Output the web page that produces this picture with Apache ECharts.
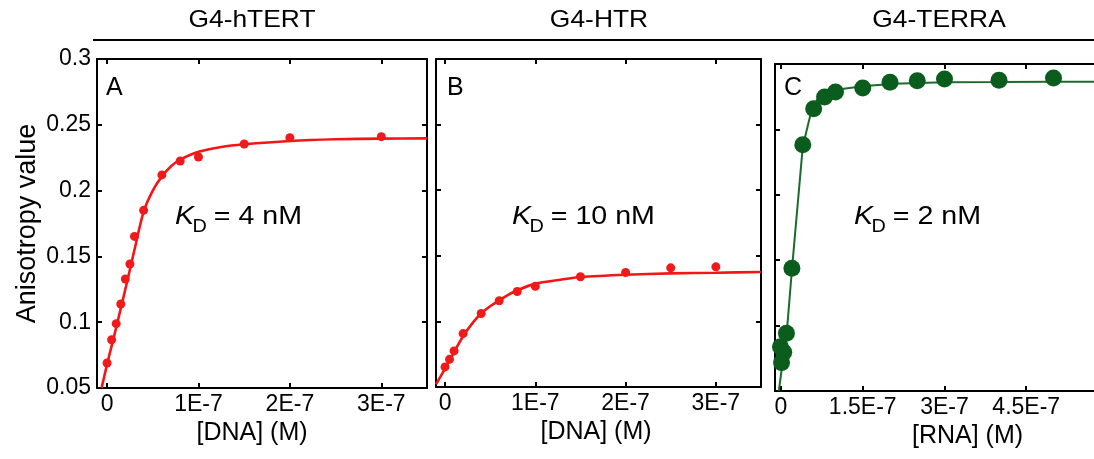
<!DOCTYPE html>
<html><head><meta charset="utf-8">
<script src="https://cdn.jsdelivr.net/npm/echarts@6/dist/echarts.min.js"></script>
<style>html,body{margin:0;padding:0;background:#fff}#c{width:1094px;height:459px}</style>
</head><body><div id="c"></div>
<script>
// ---- data ----
const panelTitles = ['G4-hTERT', 'G4-HTR', 'G4-TERRA'];
const panelLetters = ['A', 'B', 'C'];
const kdLabels = [' = 4 nM', ' = 10 nM', ' = 2 nM'];
const xNames = ['[DNA] (M)', '[DNA] (M)', '[RNA] (M)'];
const yName = 'Anisotropy value';

const yTicks = [0.05, 0.1, 0.15, 0.2, 0.25, 0.3];
const yTickLabels = ['0.05', '0.1', '0.15', '0.2', '0.25', '0.3'];
const xTicksAB = [0, 1e-7, 2e-7, 3e-7];
const xTickLabelsAB = ['0', '1E-7', '2E-7', '3E-7'];
const xTicksC = [0, 1.5e-7, 3e-7, 4.5e-7];
const xTickLabelsC = ['0', '1.5E-7', '3E-7', '4.5E-7'];

const dotsAx = [0, 5e-9, 1e-8, 1.5e-8, 2e-8, 2.5e-8, 3e-8, 4e-8, 6e-8, 8e-8, 1e-7, 1.5e-7, 2e-7, 3e-7];
const dotsAy = [0.069, 0.0867, 0.0989, 0.1138, 0.1328, 0.1442, 0.1652, 0.185, 0.2119, 0.2225, 0.2255, 0.2354, 0.2402, 0.241];
const fitAx = [-6e-9, 0, 1e-8, 2e-8, 3e-8, 4e-8, 5e-8, 6e-8, 7e-8, 8e-8, 1e-7, 1.25e-7, 1.5e-7, 2e-7, 2.5e-7, 3e-7, 3.5e-7];
const fitAy = [0.05, 0.068, 0.096, 0.125, 0.155, 0.184, 0.200, 0.2108, 0.2185, 0.2235, 0.2295, 0.2332, 0.2352, 0.2377, 0.2390, 0.2395, 0.2397];

const dotsBx = [0, 5e-9, 1e-8, 2e-8, 4e-8, 6e-8, 8e-8, 1e-7, 1.5e-7, 2e-7, 2.5e-7, 3e-7];
const dotsBy = [0.0653, 0.0711, 0.0775, 0.0907, 0.106, 0.1157, 0.1228, 0.1268, 0.134, 0.1373, 0.1408, 0.1416];
const fitBx = [-1e-8, 0, 9e-9, 2e-8, 3.15e-8, 4e-8, 5e-8, 6e-8, 7e-8, 8e-8, 1e-7, 1.28e-7, 1.5e-7, 2e-7, 2.5e-7, 3e-7, 3.5e-7];
const fitBy = [0.052, 0.064, 0.0754, 0.0887, 0.0996, 0.106, 0.1115, 0.1161, 0.1202, 0.1237, 0.1288, 0.1318, 0.1338, 0.1356, 0.1366, 0.1371, 0.1377];

const dotsCx = [-1e-9, 1e-9, 5e-9, 1e-8, 2e-8, 4e-8, 6e-8, 8e-8, 1e-7, 1.5e-7, 2e-7, 2.5e-7, 3e-7, 4e-7, 5e-7];
const dotsCy = [0.0839, 0.0717, 0.0796, 0.0941, 0.1439, 0.2383, 0.2658, 0.2747, 0.2786, 0.2816, 0.286, 0.2872, 0.2885, 0.2875, 0.2893];
const fitCx = [-4e-9, 1.1e-8, 2e-8, 4e-8, 5.4e-8, 6.6e-8, 8.4e-8, 1.15e-7, 1.5e-7, 2.07e-7, 3e-7, 4e-7, 5e-7, 6e-7];
const fitCy = [0.05, 0.0967, 0.1426, 0.237, 0.2612, 0.2727, 0.2778, 0.2811, 0.2829, 0.2849, 0.286, 0.2862, 0.2865, 0.2865];

// ---- build ----
const FONT = '"Liberation Sans", Arial, sans-serif';
const zip = (xs, ys) => xs.map((x, i) => [x, ys[i]]);
const pick = (vals, labels) => v => {
  for (let i = 0; i < vals.length; i++) if (Math.abs(vals[i] - v) < 1e-12 + Math.abs(vals[i]) * 1e-6) return labels[i];
  return '';
};

const grids = [
  { left: 97, top: 59, width: 330, height: 329 },
  { left: 436, top: 59, width: 325, height: 328 },
  { left: 775, top: 64, width: 333, height: 327 }
];
const xRanges = [[-1.1e-8, 3.5e-7], [-1e-8, 3.5e-7], [-1.1e-8, 6e-7]];
const xTickSets = [[xTicksAB, xTickLabelsAB], [xTicksAB, xTickLabelsAB], [xTicksC, xTickLabelsC]];
const namePads = [[0, 20, 0, 0], [0, 5, 0, 0], [0, 0, 0, 52]];

const lineStyle = { color: '#000', width: 2 };
const xAxes = [], yAxes = [];
for (let g = 0; g < 3; g++) {
  const [tv, tl] = xTickSets[g];
  xAxes.push({
    type: 'value', gridIndex: g, position: 'bottom', min: xRanges[g][0], max: xRanges[g][1],
    axisLine: { onZero: false, lineStyle },
    axisTick: { inside: true, length: 5, lineStyle: { width: 2, color: '#000' }, customValues: tv },
    axisLabel: { customValues: tv, formatter: pick(tv, tl), color: '#000', fontSize: 23, fontFamily: FONT, margin: 5 },
    splitLine: { show: false },
    name: xNames[g], nameLocation: 'middle', nameGap: 33,
    nameTextStyle: { color: '#000', fontSize: 25, fontFamily: FONT, padding: namePads[g] }
  });
  xAxes.push({
    type: 'value', gridIndex: g, position: 'top', min: xRanges[g][0], max: xRanges[g][1],
    axisLine: { onZero: false, lineStyle },
    axisTick: { inside: true, length: 5, lineStyle: { width: 2, color: '#000' }, customValues: tv },
    axisLabel: { show: false }, splitLine: { show: false }
  });
  yAxes.push({
    type: 'value', gridIndex: g, position: 'left', min: 0.05, max: 0.3,
    axisLine: { onZero: false, lineStyle },
    axisTick: { inside: true, length: 5, lineStyle: { width: 2, color: '#000' }, customValues: yTicks },
    axisLabel: { show: g === 0, customValues: yTicks, formatter: pick(yTicks, yTickLabels), color: '#000', fontSize: 23, fontFamily: FONT, margin: 6 },
    splitLine: { show: false },
    name: g === 0 ? yName : '', nameLocation: 'middle', nameGap: 56,
    nameTextStyle: { color: '#000', fontSize: 27, fontFamily: FONT }
  });
  yAxes.push({
    type: 'value', gridIndex: g, position: 'right', min: 0.05, max: 0.3,
    axisLine: { onZero: false, lineStyle },
    axisTick: { inside: true, length: 5, lineStyle: { width: 2, color: '#000' }, customValues: yTicks },
    axisLabel: { show: false }, splitLine: { show: false }
  });
}

const RED = '#f01a1a', RED_LINE = '#f21616', GREEN = '#0b5d1e', GREEN_LINE = '#1c6b2c';
const fits = [zip(fitAx, fitAy), zip(fitBx, fitBy), zip(fitCx, fitCy)];
const dots = [zip(dotsAx, dotsAy), zip(dotsBx, dotsBy), zip(dotsCx, dotsCy)];
const series = [];
for (let g = 0; g < 3; g++) {
  const isC = g === 2;
  series.push({
    type: 'line', xAxisIndex: 2 * g, yAxisIndex: 2 * g, data: fits[g], showSymbol: false, symbol: 'none',
    smooth: isC ? false : 0.25, lineStyle: { color: isC ? GREEN_LINE : RED_LINE, width: isC ? 2 : 2.6 },
    clip: true, silent: true, z: 2
  });
  series.push({
    type: 'scatter', xAxisIndex: 2 * g, yAxisIndex: 2 * g, data: dots[g],
    symbolSize: isC ? 17 : 9, itemStyle: { color: isC ? GREEN : RED, opacity: 1 }, z: 3, silent: true
  });
}

const titleX = [252, 599, 939];
const letterPos = [[106, 88], [447, 88], [784, 88]];
const kdPos = [[175, 217], [512, 217], [854, 217]];
const graphic = [
  { type: 'line', shape: { x1: 93, y1: 40, x2: 1094, y2: 40 }, style: { stroke: '#000', lineWidth: 2 } }
];
for (let g = 0; g < 3; g++) {
  graphic.push({ type: 'text', x: titleX[g], y: 20, scaleX: 1.1, style: { text: panelTitles[g], font: '24px ' + FONT, fill: '#000', align: 'center', verticalAlign: 'middle' } });
  graphic.push({ type: 'text', x: letterPos[g][0], y: letterPos[g][1], style: { text: panelLetters[g], font: '25px ' + FONT, fill: '#000', align: 'left', verticalAlign: 'middle' } });
  const [kx, ky] = kdPos[g];
  graphic.push({
    type: 'group', x: kx, y: ky, scaleX: 1.1,
    children: [
      { type: 'text', x: 0, y: 0, style: { text: 'K', font: 'italic 26px ' + FONT, fill: '#000', align: 'left', verticalAlign: 'middle' } },
      { type: 'text', x: 16, y: 10, style: { text: 'D', font: '18px ' + FONT, fill: '#000', align: 'left', verticalAlign: 'middle' } },
      { type: 'text', x: 28, y: 0, style: { text: kdLabels[g], font: '26px ' + FONT, fill: '#000', align: 'left', verticalAlign: 'middle' } }
    ]
  });
}

const chart = echarts.init(document.getElementById('c'), null, { renderer: 'canvas' });
chart.setOption({
  animation: false,
  backgroundColor: '#fff',
  grid: grids.map(g => Object.assign({ containLabel: false, outerBoundsMode: 'none' }, g)),
  xAxis: xAxes, yAxis: yAxes, series, graphic
});
</script></body></html>
